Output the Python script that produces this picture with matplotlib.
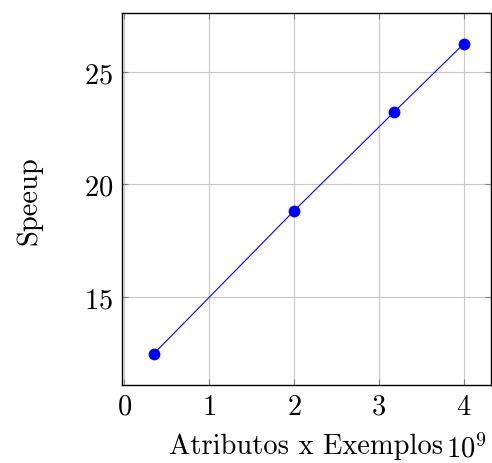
import matplotlib
matplotlib.use("Agg")
import matplotlib.pyplot as plt

# data
attr_x_examples = [0.35, 2.0, 3.18, 4.0]   # in units of 1e9
speedup = [12.47, 18.82, 23.22, 26.25]

x_ticks = [0, 1, 2, 3, 4]
y_ticks = [15, 20, 25]

plt.rcParams['font.family'] = 'serif'
plt.rcParams['font.serif'] = ['cmr10']
plt.rcParams['mathtext.fontset'] = 'cm'
plt.rcParams['axes.formatter.use_mathtext'] = True

fig = plt.figure(figsize=(4.92, 4.64), dpi=100)
ax = fig.add_axes([0.247, 0.168, 0.751, 0.801])

ax.plot(attr_x_examples, speedup, color='blue', lw=0.8,
        marker='o', markersize=8.5, markeredgewidth=0, zorder=3)

ax.set_xlim(-0.03, 4.32)
ax.set_ylim(11.08, 27.6)
ax.set_xticks(x_ticks)
ax.set_yticks(y_ticks)
ax.grid(True, color='#c8c8c8', lw=0.8)
ax.set_axisbelow(True)
ax.tick_params(direction='in', length=4, width=0.8, color='#808080',
               top=True, right=True, labelsize=20.5, pad=6)
for s in ax.spines.values():
    s.set_linewidth(1.0)

ax.set_xlabel('Atributos x Exemplos', fontsize=20.5, labelpad=9)
ax.set_ylabel('Speeup', fontsize=20.5, labelpad=30)
ax.text(0.878, -0.191, r'$10^9$', transform=ax.transAxes, fontsize=20.5,
        ha='left', va='baseline')

fig.savefig('out.png', dpi=100)
